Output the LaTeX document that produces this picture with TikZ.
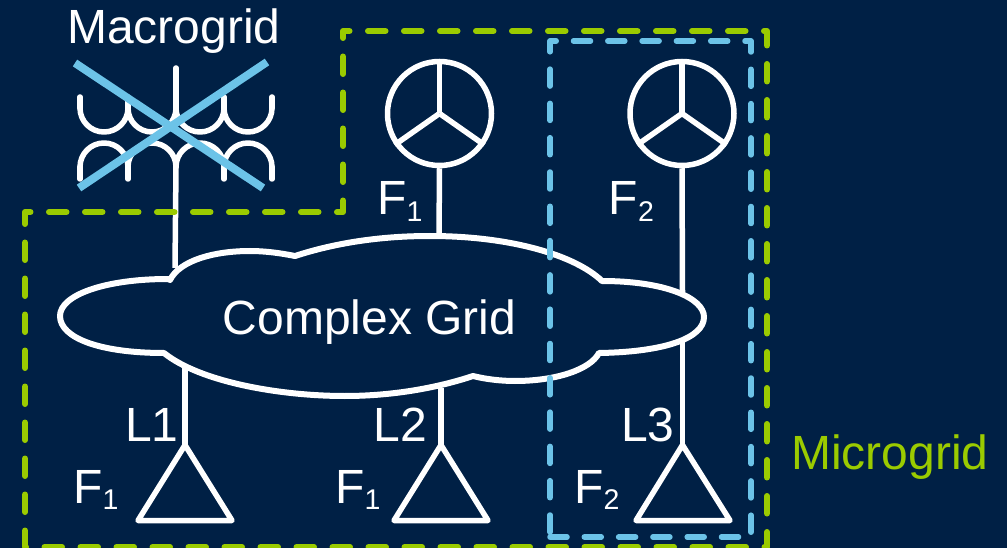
\documentclass[tikz,border=0pt]{standalone}
\usepackage{fontspec}
\setmainfont{Liberation Sans}
\definecolor{bgnavy}{RGB}{0,32,69}
\definecolor{mgreen}{RGB}{155,203,0}
\definecolor{mblue}{RGB}{108,195,232}
\newcommand{\sub}[1]{{\fontsize{28.5}{28.5}\selectfont\raisebox{-6.5pt}{#1}}}
\tikzset{
  x=1pt,y=-1pt,
  wire/.style={draw=white,line width=5.5pt,line cap=round,line join=round},
  stem/.style={draw=white,line width=5.5pt},
  gen/.style={circle,draw=white,line width=5.5pt,minimum size=104pt,inner sep=0pt},
  lbl/.style={text=white,font=\fontsize{48}{48}\selectfont,anchor=base west,inner sep=0pt},
  cross/.style={draw=mblue,line width=8pt},
  greendash/.style={draw=mgreen,line width=6pt,line cap=round,line join=round,dash pattern=on 17.5pt off 18.5pt,dash phase=11pt},
  bluedash/.style={draw=mblue,line width=5.5pt,line cap=round,line join=round,dash pattern=on 17pt off 17.3pt},
}
\begin{document}
\begin{tikzpicture}
\useasboundingbox (0,0) rectangle (1007,548);
\clip (0,0) rectangle (1007,548);
\fill[bgnavy] (0,0) rectangle (1007,548);
% anchors on the cloud and transformer
\coordinate (xfTop) at (176,68);
\coordinate (xfMid) at (176,108);
\coordinate (xfLow) at (176,167);
\coordinate (cTr) at (175,268);
\coordinate (cF1) at (439,236);
\coordinate (cF2) at (682.5,292);
\coordinate (cL1) at (185,367);
\coordinate (cL2) at (441,388);
\coordinate (cL3) at (682.5,338);
\coordinate (a1) at (185,445);
\coordinate (a2) at (441,445);
\coordinate (a3) at (682.5,445);
% transformer coils
\foreach \x in {80,128,176,224}{
  \begin{scope}[shift={(\x,0)}]
    \draw[wire] (0,108) .. controls (0,121.25) and (10.75,132) .. (24,132)
                        .. controls (37.25,132) and (48,121.25) .. (48,108);
    \draw[wire] (0,167) .. controls (0,153.75) and (10.75,143) .. (24,143)
                        .. controls (37.25,143) and (48,153.75) .. (48,167);
  \end{scope}
}
\foreach \x in {80,128,224,272}{
  \draw[wire] (\x,97) -- (\x,108);
  \draw[wire] (\x,167) -- (\x,179);
}
\draw[wire] (xfTop) -- (xfMid);
\draw[stem] (xfLow) -- (cTr);
% cloud
\draw[draw=white,line width=6pt,line join=round]
  (170,280) -- (168,279) .. controls (105,279) and (60,295) .. (60,316)
  .. controls (60,338) and (100,353) .. (164,353)
  .. controls (200,382) and (280,396) .. (345,396)
  .. controls (395,396) and (440,387) .. (473,376)
  .. controls (485,379) and (500,381) .. (515,381)
  .. controls (555,381) and (590,370) .. (599,353)
  .. controls (665,352) and (704,338) .. (704,317)
  .. controls (704,298) and (665,281) .. (602,281)
  .. controls (575,255) and (510,236) .. (430,236)
  .. controls (380,236) and (335,243) .. (295,256)
  .. controls (280,253) and (265,251) .. (250,251)
  .. controls (215,251) and (180,260) .. (170,280) -- cycle;
\node[lbl] (cloudtxt) at (222.5,334) {Complex Grid};
% generators
\node[gen] (g1) at (439.5,113.5) {};
\node[gen] (g2) at (682,113.5) {};
\foreach \g in {g1,g2}{
  \draw[wire,line cap=butt] (\g.center) -- (\g.north);
  \draw[wire,line cap=butt] (\g.center) -- (\g.-145);
  \draw[wire,line cap=butt] (\g.center) -- (\g.-35);
}
\draw[stem] (g1.south) -- (cF1);
\draw[stem] (g2.south) -- (cF2);
% loads
\draw[stem] (cL1) -- (a1);
\draw[stem] (cL2) -- (a2);
\draw[stem] (cL3) -- (a3);
\draw[wire] (a1) -- (138,520.5) -- (232,520.5) -- cycle;
\draw[wire] (a2) -- (394,520.5) -- (488,520.5) -- cycle;
\draw[wire] (a3) -- (636,520.5) -- (730,520.5) -- cycle;
% crossed-out macrogrid
\draw[cross] (75,63) -- (263,188);
\draw[cross] (267,62) -- (79,188);
% boundaries
\draw[greendash] (343,31) -- (767,31) -- (767,547) -- (25,547) -- (25,212) -- (343,212) -- cycle;
\draw[bluedash] (550,537) -- (751,537) -- (751,41) -- (550,41) -- cycle;
% labels
\node[lbl] (macro) at (67,44) {Macrogrid};
\node[lbl,text=mgreen] (micro) at (791,469) {Microgrid};
\node[lbl] (f1a) at (377,215) {F\sub{1}};
\node[lbl] (f2a) at (608.5,215) {F\sub{2}};
\node[lbl] (l1) at (125,441) {L1};
\node[lbl] (l2) at (373.5,441) {L2};
\node[lbl] (l3) at (621,441) {L3};
\node[lbl] (f1b) at (73,503) {F\sub{1}};
\node[lbl] (f1c) at (335,503) {F\sub{1}};
\node[lbl] (f2b) at (574,503) {F\sub{2}};
\end{tikzpicture}
\end{document}
